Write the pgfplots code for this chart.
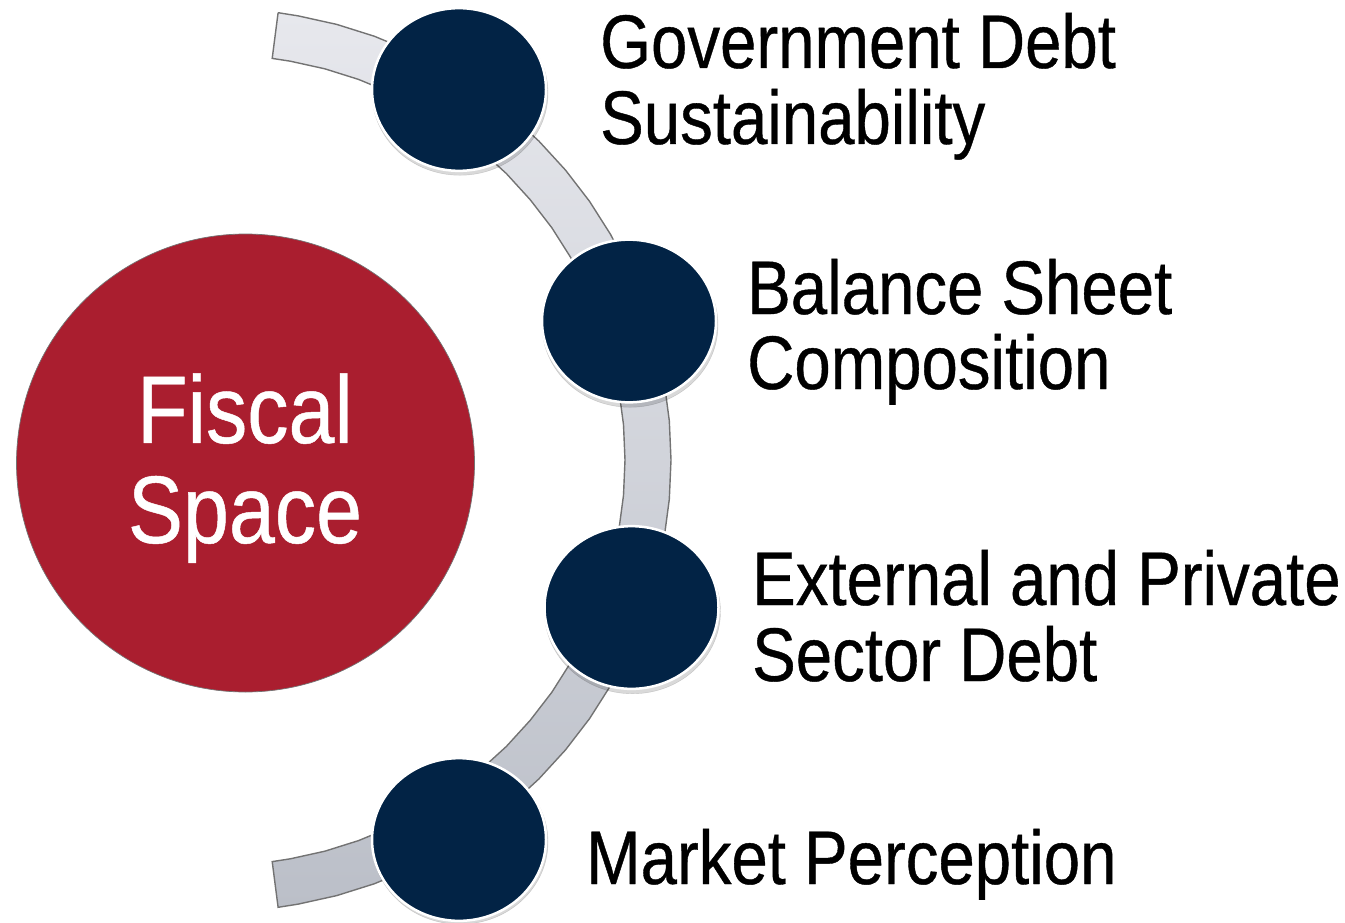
\documentclass[border=0pt]{standalone}
\usepackage{pgfplots}
\pgfplotsset{compat=1.18}
\usepackage{fontspec}
\setmainfont[FakeStretch=0.86, FakeBold=0.5]{Liberation Sans}
\definecolor{fred}{RGB}{170,30,47}
\definecolor{navy}{RGB}{2,35,69}
\definecolor{bandtop}{RGB}{231,232,237}
\definecolor{bandbot}{RGB}{187,191,200}
\definecolor{bandedge}{RGB}{115,115,115}
\begin{document}
\begin{tikzpicture}
\begin{axis}[
  scale only axis, width=1345bp, height=923bp,
  xmin=0, xmax=1345, ymin=0, ymax=923, y dir=reverse,
  hide axis, clip=false,
]
% curved band
\addplot[draw=bandedge, line width=1.4bp, top color=bandtop, bottom color=bandbot, mark=none] coordinates {
(278.1,12.7) (298.3,15.9) (336.7,24.4) (374.2,36.2) (410.6,51.3) (445.5,69.4) (478.7,90.5) (509.9,114.5) (538.9,141.1) (565.5,170.1) (589.5,201.3) (610.6,234.5) (628.7,269.4) (643.8,305.8) (655.6,343.3) (664.1,381.7) (669.3,420.7) (671,460) (669.3,499.3) (664.1,538.3) (655.6,576.7) (643.8,614.2) (628.7,650.6) (610.6,685.5) (589.5,718.7) (565.5,749.9) (538.9,778.9) (509.9,805.5) (478.7,829.5) (445.5,850.6) (410.6,868.7) (374.2,883.8) (336.7,895.6) (298.3,904.1) (278.1,907.3)
(272.2,861.6) (290.3,858.8) (324.8,851.2) (358.5,840.6) (391.2,827.1) (422.5,810.7) (452.3,791.8) (480.3,770.2) (506.4,746.4) (530.2,720.3) (551.8,692.3) (570.7,662.5) (587.1,631.2) (600.6,598.5) (611.2,564.8) (618.8,530.3) (623.5,495.3) (625,460) (623.5,424.7) (618.8,389.7) (611.2,355.2) (600.6,321.5) (587.1,288.8) (570.7,257.5) (551.8,227.7) (530.2,199.7) (506.4,173.6) (480.3,149.8) (452.3,128.2) (422.5,109.3) (391.2,92.9) (358.5,79.4) (324.8,68.8) (290.3,61.2) (272.2,58.4) (278.1,12.7)
};
% shadows of small circles
\addplot[only marks, mark=*, mark size=88bp, mark options={yscale=0.935, fill=black, draw=none, opacity=0.15}] coordinates {(460,93) (630,325) (632.5,611.5) (460,842)};
% small circles
\addplot[only marks, mark=*, mark size=87bp, mark options={yscale=0.935, fill=navy, draw=white, line width=2.5bp}] coordinates {(459,89.5) (629,321) (631.5,607.5) (459,839.5)};
% fiscal circle
\addplot[only marks, mark=*, mark size=229bp, mark options={fill=fred, draw=black!55, line width=0.7bp}] coordinates {(245.5,463)};

\coordinate (fs1) at (axis cs:245,443);
\coordinate (fs2) at (axis cs:245,543);

\node[anchor=base west, inner sep=0, font=\fontsize{76bp}{76bp}\selectfont] at (axis cs:600,68) {Government Debt};
\node[anchor=base west, inner sep=0, font=\fontsize{76bp}{76bp}\selectfont] at (axis cs:600,144) {Sustainability};
\node[anchor=base west, inner sep=0, font=\fontsize{76bp}{76bp}\selectfont] at (axis cs:747,314) {Balance Sheet};
\node[anchor=base west, inner sep=0, font=\fontsize{76bp}{76bp}\selectfont] at (axis cs:747,389) {Composition};
\node[anchor=base west, inner sep=0, font=\fontsize{76bp}{76bp}\selectfont] at (axis cs:752,605) {External and Private};
\node[anchor=base west, inner sep=0, font=\fontsize{76bp}{76bp}\selectfont] at (axis cs:752,681) {Sector Debt};
\node[anchor=base west, inner sep=0, font=\fontsize{76bp}{76bp}\selectfont] at (axis cs:586,884) {Market Perception};
\end{axis}
\node[anchor=base, inner sep=0, text=white, font=\fontsize{96bp}{96bp}\selectfont] at (fs1) {Fiscal};
\node[anchor=base, inner sep=0, text=white, font=\fontsize{96bp}{96bp}\selectfont] at (fs2) {Space};
\pgfresetboundingbox
\useasboundingbox (current axis.south west) rectangle (current axis.north east);
\end{tikzpicture}
\end{document}
